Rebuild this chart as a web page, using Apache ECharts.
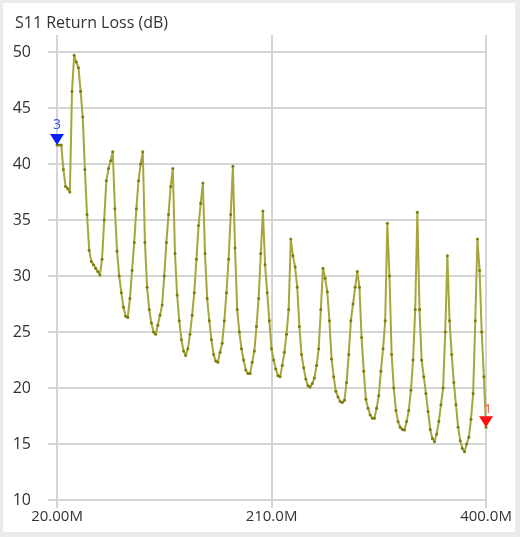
<!DOCTYPE html>
<html>
<head>
<meta charset="utf-8">
<script src="https://cdn.jsdelivr.net/npm/echarts@6/dist/echarts.min.js"></script>
<style>
html,body{margin:0;padding:0;background:#fff;}
#c{position:absolute;left:0;top:0;width:520px;height:537px;background:#fff;}
#frame{position:absolute;left:0;top:0;width:520px;height:537px;box-sizing:border-box;border-style:solid;border-color:#ebebeb;border-width:3px 5px 5px 3px;pointer-events:none;}
</style>
</head>
<body>
<div id="c"></div>
<div id="frame"></div>
<script>
// Sweep definition (MHz)
const startFreq = 20;
const stopFreq = 400;
const pointCount = 201;

// S11 return loss values (dB)
const s11 = [
41.7,41.7,41.7,39.5,38.0,37.8,37.5,46.5,49.7,49.1,
48.6,46.5,44.2,39.5,35.5,32.3,31.3,31.0,30.7,30.4,
30.1,31.5,35.0,38.5,39.6,40.3,41.1,36.0,32.2,30.0,
28.5,27.2,26.4,26.3,28.0,30.5,33.0,36.0,38.5,40.0,
41.1,33.0,29.0,27.0,25.8,25.0,24.8,25.6,26.5,27.4,
30.0,33.0,35.5,38.0,39.6,32.0,28.3,26.0,24.3,23.3,
22.9,23.5,24.8,26.5,28.5,31.5,34.5,36.5,38.3,32.0,
28.0,26.0,24.3,23.0,22.4,22.3,23.2,24.0,26.0,28.5,
31.5,35.5,39.8,32.5,27.0,25.0,23.5,22.5,21.6,21.3,
21.3,22.3,23.3,25.5,28.0,32.0,35.8,31.0,28.5,26.0,
23.5,22.5,21.7,21.1,21.0,22.0,23.2,24.8,27.0,33.3,
31.8,30.8,29.0,25.5,23.0,21.8,20.8,20.2,20.1,20.4,
20.9,22.0,23.5,27.0,30.7,29.8,28.6,26.0,22.6,21.0,
19.7,19.2,18.8,18.7,18.9,20.5,23.0,26.0,27.5,29.0,
30.4,29.0,24.5,21.5,19.0,18.2,17.6,17.3,17.3,18.2,
19.3,21.5,23.5,26.0,34.7,30.0,23.0,20.0,18.0,17.0,
16.5,16.3,16.25,17.0,18.0,19.8,22.5,27.0,35.7,27.0,
22.5,21.0,19.5,17.9,16.3,15.5,15.2,15.9,17.0,18.5,
20.0,25.0,31.8,26.0,23.0,20.5,18.5,16.5,15.3,14.6,
14.3,15.0,15.6,17.2,19.5,26.0,33.3,30.5,25.0,21.0,
16.5
];

// Axis tick values and labels
const xTicks = [20, 210, 400];
const xTickLabels = ['20.00M', '210.0M', '400.0M'];
const yMin = 10, yMax = 50, yStep = 5;

// Markers
const markerStart = { label: '3', index: 0 };
const markerEnd = { label: '1', index: pointCount - 1 };

const step = (stopFreq - startFreq) / (pointCount - 1);
const freqs = s11.map((v, i) => startFreq + i * step);
const seriesData = s11.map((v, i) => [freqs[i], v]);

const gridColor = '#d5d5d5';
const font = 'Open Sans, Noto Sans, sans-serif';

const chart = echarts.init(document.getElementById('c'), null, { renderer: 'canvas' });
chart.setOption({
  animation: false,
  backgroundColor: '#fff',
  title: {
    text: 'S11 Return Loss (dB)',
    left: 10, top: 10,
    textStyle: { fontSize: 16, fontWeight: 'normal', color: '#333', fontFamily: font }
  },
  grid: { left: 57, right: 34, top: 52, bottom: 37, containLabel: false },
  xAxis: {
    type: 'value', min: startFreq, max: stopFreq, interval: xTicks[1] - xTicks[0],
    axisLine: { show: false },
    axisTick: { show: true, length: 8, lineStyle: { color: gridColor, width: 2 } },
    splitLine: { show: true, lineStyle: { color: gridColor, width: 2 } },
    axisLabel: {
      margin: 9, color: '#333', fontSize: 15, fontFamily: font,
      formatter: v => { const k = xTicks.indexOf(Math.round(v)); return k >= 0 ? xTickLabels[k] : ''; },
      showMinLabel: true, showMaxLabel: true
    }
  },
  yAxis: {
    type: 'value', min: yMin, max: yMax, interval: yStep,
    axisLine: { show: true, lineStyle: { color: gridColor, width: 2 } },
    axisTick: { show: true, length: 9, lineStyle: { color: gridColor, width: 2 } },
    splitLine: { show: true, lineStyle: { color: gridColor, width: 2 } },
    axisLabel: { margin: 26, align: 'right', color: '#333', fontSize: 16, fontFamily: font }
  },
  series: [{
    type: 'line',
    data: seriesData,
    showSymbol: true,
    symbol: 'circle',
    symbolSize: 3,
    itemStyle: { color: '#7d7d0c' },
    lineStyle: { color: '#a6a63e', width: 2 },
    z: 3,
    markPoint: {
      silent: true,
      z: 10,
      data: [
        {
          coord: seriesData[markerStart.index],
          symbol: 'triangle', symbolRotate: 180, symbolSize: [14, 11], symbolOffset: [0, -5.5],
          itemStyle: { color: '#0b1cff' },
          label: { show: true, formatter: markerStart.label, position: 'top', distance: 2, color: '#2f55e8', fontSize: 14, fontFamily: font }
        },
        {
          coord: seriesData[markerEnd.index],
          symbol: 'triangle', symbolRotate: 180, symbolSize: [14, 11], symbolOffset: [0, -5.5],
          itemStyle: { color: '#ff1010' },
          label: { show: true, formatter: markerEnd.label, position: 'top', distance: 1, offset: [2, 0], color: '#ff3030', fontSize: 12, fontFamily: font }
        }
      ]
    }
  }]
});

// Extend the vertical grid lines above the plot, like the reference
const topPx = chart.convertToPixel({ gridIndex: 0 }, [startFreq, yMax])[1];
const ext = xTicks.map(v => {
  const x = Math.round(chart.convertToPixel({ gridIndex: 0 }, [v, yMax])[0]);
  return { type: 'line', shape: { x1: x, y1: topPx - 17, x2: x, y2: topPx }, style: { stroke: gridColor, lineWidth: 2 }, z: 0 };
});
chart.setOption({ graphic: ext });
</script>
</body>
</html>
